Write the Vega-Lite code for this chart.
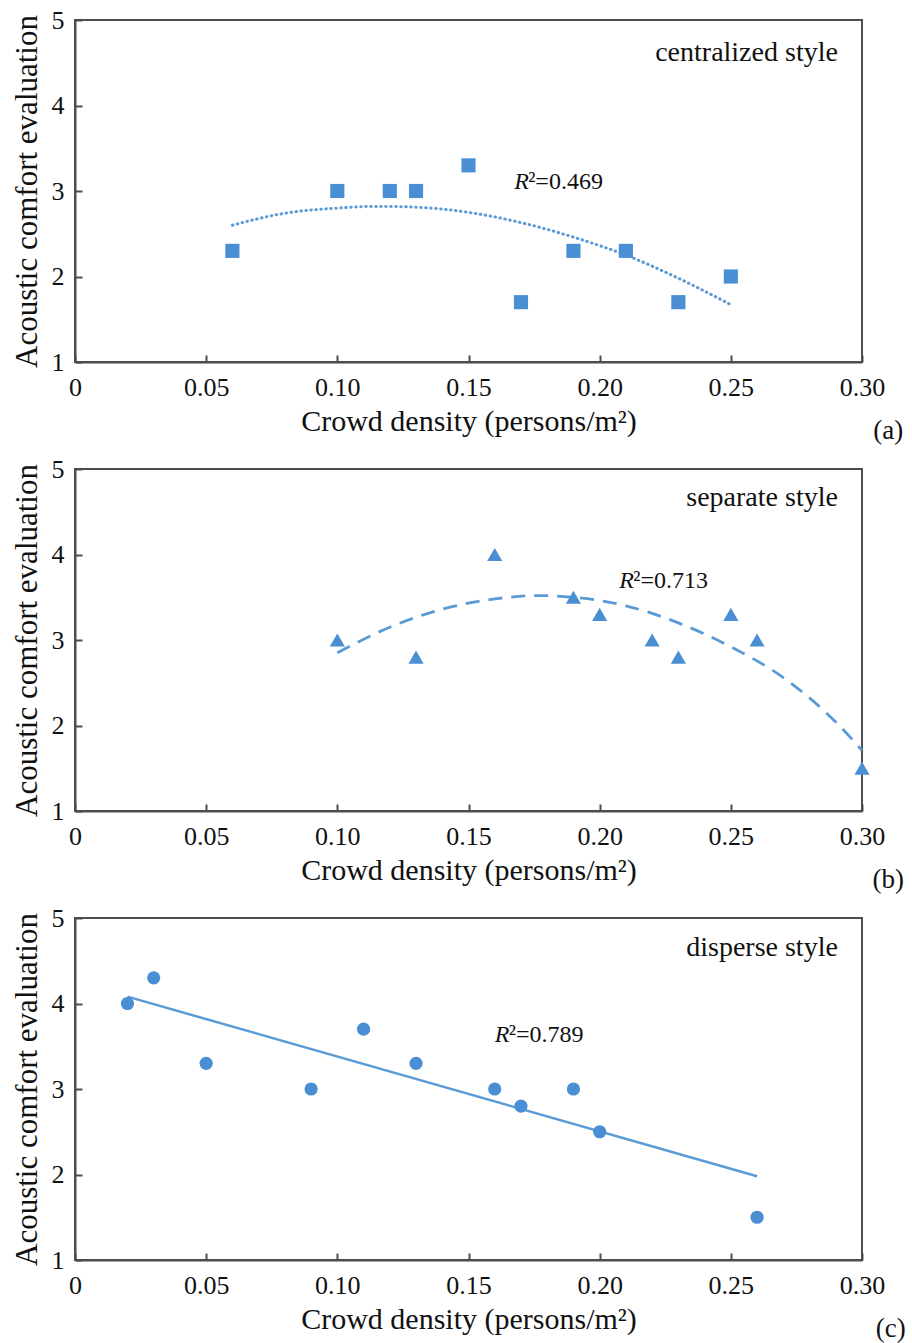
{
  "$schema": "https://vega.github.io/schema/vega-lite/v6.json",
  "background": "white",
  "padding": {"left": 10, "top": 6, "right": 4, "bottom": 2},
  "spacing": 107,
  "bounds": "flush",
  "config": {
    "font": "Liberation Serif",
    "text": {"font": "Liberation Serif"},
    "view": {"stroke": "#4d4d4d", "strokeWidth": 2},
    "axis": {
      "grid": false,
      "domainColor": "#4d4d4d",
      "domainWidth": 2,
      "tickColor": "#4d4d4d",
      "tickWidth": 2,
      "tickSize": -7,
      "labelFont": "Liberation Serif",
      "labelFontSize": 26,
      "labelColor": "#111111",
      "titleFont": "Liberation Serif",
      "titleFontSize": 30,
      "titleFontWeight": "normal",
      "titleColor": "#111111"
    },
    "axisX": {"labelPadding": 19, "titlePadding": 6, "labelFlush": false},
    "axisY": {"labelPadding": 18, "titlePadding": 8, "titleFontSize": 31}
  },
  "vconcat": [
    {
      "width": 787,
      "height": 342,
      "encoding": {
        "x": {"field": "d", "type": "quantitative", "scale": {"domain": [0, 0.3], "nice": false, "zero": false}, "axis": {"values": [0, 0.05, 0.1, 0.15, 0.2, 0.25, 0.3], "labelExpr": "datum.value == 0 ? '0' : format(datum.value, '.2f')", "title": "Crowd density (persons/m²)"}},
        "y": {"field": "v", "type": "quantitative", "scale": {"domain": [1, 5], "nice": false, "zero": false}, "axis": {"values": [1, 2, 3, 4, 5], "format": "d", "title": "Acoustic comfort evaluation"}}
      },
      "layer": [
        {
          "data": {"values": [
            {"d": 0.06, "v": 2.60}, {"d": 0.08, "v": 2.74}, {"d": 0.10, "v": 2.80}, {"d": 0.115, "v": 2.82},
            {"d": 0.13, "v": 2.81}, {"d": 0.15, "v": 2.75}, {"d": 0.17, "v": 2.63}, {"d": 0.19, "v": 2.46},
            {"d": 0.21, "v": 2.25}, {"d": 0.23, "v": 1.98}, {"d": 0.25, "v": 1.67}
          ]},
          "mark": {"type": "line", "color": "#5B9BD5", "strokeWidth": 3, "strokeDash": [0.5, 4.5], "strokeCap": "round", "interpolate": "monotone"},
          "encoding": {}
        },
        {
          "data": {"values": [
            {"d": 0.06, "v": 2.3}, {"d": 0.10, "v": 3.0}, {"d": 0.12, "v": 3.0}, {"d": 0.13, "v": 3.0},
            {"d": 0.15, "v": 3.3}, {"d": 0.17, "v": 1.7}, {"d": 0.19, "v": 2.3}, {"d": 0.21, "v": 2.3},
            {"d": 0.23, "v": 1.7}, {"d": 0.25, "v": 2.0}
          ]},
          "mark": {"type": "point", "shape": "square", "filled": true, "size": 200, "color": "#4A8FD3", "opacity": 1}
        },
        {
          "data": {"values": [{"d": 0.2908, "v": 4.61, "t": "centralized style"}]},
          "mark": {"type": "text", "align": "right", "baseline": "middle", "fontSize": 28, "color": "#111111"},
          "encoding": {"text": {"field": "t"}}
        },
        {
          "data": {"values": [{"d": 0.1674, "v": 3.1, "t": "R"}]},
          "mark": {"type": "text", "align": "left", "baseline": "middle", "fontSize": 24, "fontStyle": "italic", "color": "#111111"},
          "encoding": {"text": {"field": "t"}}
        },
        {
          "data": {"values": [{"d": 0.1674, "v": 3.1, "t": "²=0.469"}]},
          "mark": {"type": "text", "align": "left", "baseline": "middle", "fontSize": 24, "dx": 14, "color": "#111111"},
          "encoding": {"text": {"field": "t"}}
        },
        {
          "data": {"values": [{"d": 0.310, "v": 0.19, "t": "(a)"}]},
          "mark": {"type": "text", "align": "center", "baseline": "middle", "fontSize": 27, "color": "#111111"},
          "encoding": {"text": {"field": "t"}}
        }
      ]
    },
    {
      "width": 787,
      "height": 342,
      "encoding": {
        "x": {"field": "d", "type": "quantitative", "scale": {"domain": [0, 0.3], "nice": false, "zero": false}, "axis": {"values": [0, 0.05, 0.1, 0.15, 0.2, 0.25, 0.3], "labelExpr": "datum.value == 0 ? '0' : format(datum.value, '.2f')", "title": "Crowd density (persons/m²)"}},
        "y": {"field": "v", "type": "quantitative", "scale": {"domain": [1, 5], "nice": false, "zero": false}, "axis": {"values": [1, 2, 3, 4, 5], "format": "d", "title": "Acoustic comfort evaluation"}}
      },
      "layer": [
        {
          "data": {"values": [
            {"d": 0.10, "v": 2.85}, {"d": 0.12, "v": 3.15}, {"d": 0.14, "v": 3.36}, {"d": 0.16, "v": 3.48},
            {"d": 0.177, "v": 3.52}, {"d": 0.19, "v": 3.50}, {"d": 0.21, "v": 3.40}, {"d": 0.23, "v": 3.20},
            {"d": 0.25, "v": 2.92}, {"d": 0.27, "v": 2.56}, {"d": 0.29, "v": 2.04}, {"d": 0.30, "v": 1.71}
          ]},
          "mark": {"type": "line", "color": "#5B9BD5", "strokeWidth": 2.8, "strokeDash": [14, 9], "interpolate": "monotone"},
          "encoding": {}
        },
        {
          "data": {"values": [
            {"d": 0.10, "v": 3.0}, {"d": 0.13, "v": 2.8}, {"d": 0.16, "v": 4.0}, {"d": 0.19, "v": 3.5},
            {"d": 0.20, "v": 3.3}, {"d": 0.22, "v": 3.0}, {"d": 0.23, "v": 2.8}, {"d": 0.25, "v": 3.3},
            {"d": 0.26, "v": 3.0}, {"d": 0.30, "v": 1.5}
          ]},
          "mark": {"type": "point", "shape": "triangle-up", "filled": true, "size": 230, "color": "#4A8FD3", "opacity": 1}
        },
        {
          "data": {"values": [{"d": 0.2908, "v": 4.66, "t": "separate style"}]},
          "mark": {"type": "text", "align": "right", "baseline": "middle", "fontSize": 28, "color": "#111111"},
          "encoding": {"text": {"field": "t"}}
        },
        {
          "data": {"values": [{"d": 0.2075, "v": 3.69, "t": "R"}]},
          "mark": {"type": "text", "align": "left", "baseline": "middle", "fontSize": 24, "fontStyle": "italic", "color": "#111111"},
          "encoding": {"text": {"field": "t"}}
        },
        {
          "data": {"values": [{"d": 0.2075, "v": 3.69, "t": "²=0.713"}]},
          "mark": {"type": "text", "align": "left", "baseline": "middle", "fontSize": 24, "dx": 14, "color": "#111111"},
          "encoding": {"text": {"field": "t"}}
        },
        {
          "data": {"values": [{"d": 0.310, "v": 0.19, "t": "(b)"}]},
          "mark": {"type": "text", "align": "center", "baseline": "middle", "fontSize": 27, "color": "#111111"},
          "encoding": {"text": {"field": "t"}}
        }
      ]
    },
    {
      "width": 787,
      "height": 342,
      "encoding": {
        "x": {"field": "d", "type": "quantitative", "scale": {"domain": [0, 0.3], "nice": false, "zero": false}, "axis": {"values": [0, 0.05, 0.1, 0.15, 0.2, 0.25, 0.3], "labelExpr": "datum.value == 0 ? '0' : format(datum.value, '.2f')", "title": "Crowd density (persons/m²)"}},
        "y": {"field": "v", "type": "quantitative", "scale": {"domain": [1, 5], "nice": false, "zero": false}, "axis": {"values": [1, 2, 3, 4, 5], "format": "d", "title": "Acoustic comfort evaluation"}}
      },
      "layer": [
        {
          "data": {"values": [{"d": 0.02, "v": 4.08}, {"d": 0.26, "v": 1.98}]},
          "mark": {"type": "line", "color": "#5B9BD5", "strokeWidth": 2.5},
          "encoding": {}
        },
        {
          "data": {"values": [
            {"d": 0.02, "v": 4.0}, {"d": 0.03, "v": 4.3}, {"d": 0.05, "v": 3.3}, {"d": 0.09, "v": 3.0},
            {"d": 0.11, "v": 3.7}, {"d": 0.13, "v": 3.3}, {"d": 0.16, "v": 3.0}, {"d": 0.17, "v": 2.8},
            {"d": 0.19, "v": 3.0}, {"d": 0.20, "v": 2.5}, {"d": 0.26, "v": 1.5}
          ]},
          "mark": {"type": "point", "shape": "circle", "filled": true, "size": 175, "color": "#4A8FD3", "opacity": 1}
        },
        {
          "data": {"values": [{"d": 0.2908, "v": 4.65, "t": "disperse style"}]},
          "mark": {"type": "text", "align": "right", "baseline": "middle", "fontSize": 28, "color": "#111111"},
          "encoding": {"text": {"field": "t"}}
        },
        {
          "data": {"values": [{"d": 0.160, "v": 3.63, "t": "R"}]},
          "mark": {"type": "text", "align": "left", "baseline": "middle", "fontSize": 24, "fontStyle": "italic", "color": "#111111"},
          "encoding": {"text": {"field": "t"}}
        },
        {
          "data": {"values": [{"d": 0.160, "v": 3.63, "t": "²=0.789"}]},
          "mark": {"type": "text", "align": "left", "baseline": "middle", "fontSize": 24, "dx": 14, "color": "#111111"},
          "encoding": {"text": {"field": "t"}}
        },
        {
          "data": {"values": [{"d": 0.311, "v": 0.19, "t": "(c)"}]},
          "mark": {"type": "text", "align": "center", "baseline": "middle", "fontSize": 27, "color": "#111111"},
          "encoding": {"text": {"field": "t"}}
        }
      ]
    }
  ]
}
